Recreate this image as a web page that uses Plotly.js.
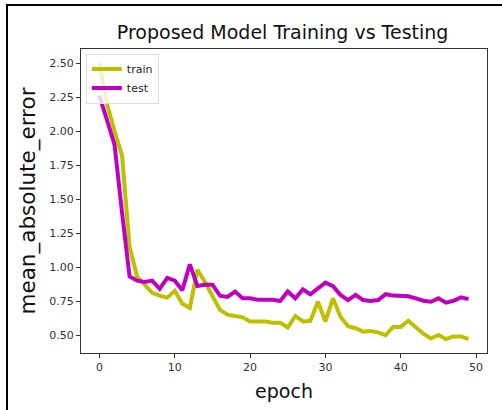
<!DOCTYPE html>
<html>
<head>
<meta charset="utf-8">
<script src="https://cdn.plot.ly/plotly-3.0.1.min.js"></script>
<style>
  html, body { margin: 0; padding: 0; background: #fff; }
  #wrap { position: relative; width: 502px; height: 410px; overflow: hidden; }
  #chart { position: absolute; left: 0; top: 0; width: 502px; height: 410px; }
  #frame { position: absolute; left: 6px; top: 4px; width: 520px; height: 430px;
           border-left: 2px solid #000; border-top: 2px solid #000; pointer-events: none; }
</style>
</head>
<body>
<div id="wrap">
  <div id="chart"></div>
  <div id="frame"></div>
</div>
<script>
const epochs = Array.from({length: 50}, (_, i) => i);

const trainMAE = [
  2.50, 2.20, 2.00, 1.82, 1.15, 0.93, 0.87, 0.81, 0.79, 0.775,
  0.825, 0.73, 0.70, 0.98, 0.89, 0.79, 0.685, 0.65, 0.64, 0.63,
  0.60, 0.60, 0.60, 0.59, 0.59, 0.555, 0.64, 0.60, 0.605, 0.745,
  0.60, 0.77, 0.635, 0.565, 0.55, 0.525, 0.53, 0.52, 0.50, 0.56,
  0.56, 0.605, 0.56, 0.51, 0.475, 0.50, 0.47, 0.49, 0.49, 0.47
];

const testMAE = [
  2.26, 2.07, 1.90, 1.40, 0.93, 0.90, 0.89, 0.90, 0.84, 0.92,
  0.90, 0.83, 1.02, 0.86, 0.87, 0.87, 0.79, 0.78, 0.82, 0.77,
  0.77, 0.76, 0.76, 0.76, 0.75, 0.82, 0.77, 0.835, 0.80, 0.845,
  0.885, 0.86, 0.795, 0.757, 0.795, 0.757, 0.75, 0.757, 0.80, 0.79,
  0.79, 0.785, 0.77, 0.752, 0.745, 0.77, 0.738, 0.752, 0.777, 0.764
];

const seriesNames = ['train', 'test'];
const xTicks = [0, 10, 20, 30, 40, 50];
const yTicks = [0.50, 0.75, 1.00, 1.25, 1.50, 1.75, 2.00, 2.25, 2.50];

const traces = [
  { x: epochs, y: trainMAE, name: seriesNames[0], type: 'scatter', mode: 'lines',
    line: { color: '#bfbf00', width: 4 } },
  { x: epochs, y: testMAE, name: seriesNames[1], type: 'scatter', mode: 'lines',
    line: { color: '#bf00bf', width: 4 } }
];

const axisCommon = {
  showgrid: false, zeroline: false,
  showline: true, mirror: true, linecolor: '#333', linewidth: 1,
  ticks: 'outside', ticklen: 4, tickwidth: 1, tickcolor: '#333',
  tickfont: { family: 'DejaVu Sans', size: 11, color: '#333' }
};

const layout = {
  width: 502, height: 410,
  margin: { l: 81, r: 15, t: 49, b: 57 },
  paper_bgcolor: '#fff', plot_bgcolor: '#fff',
  title: { text: 'Proposed Model Training vs Testing', x: 0.563, xanchor: 'center',
           y: 0.922, yanchor: 'middle',
           font: { family: 'DejaVu Sans', size: 19, color: '#111' } },
  xaxis: Object.assign({}, axisCommon, {
    range: [-2.45, 51.45], tickvals: xTicks, ticktext: xTicks.map(String),
    title: { text: 'epoch', standoff: 11, font: { family: 'DejaVu Sans', size: 19, color: '#111' } }
  }),
  yaxis: Object.assign({}, axisCommon, {
    range: [0.368, 2.603], tickvals: yTicks, ticktext: yTicks.map(v => v.toFixed(2)),
    title: { text: 'mean_absolute_error', standoff: 7, font: { family: 'DejaVu Sans', size: 21.5, color: '#111' } }
  }),
  showlegend: true,
  legend: { x: 0.012, y: 0.985, xanchor: 'left', yanchor: 'top',
            bgcolor: 'rgba(255,255,255,0.8)', bordercolor: '#ddd', borderwidth: 1,
            font: { family: 'DejaVu Sans', size: 11, color: '#222' },
            tracegroupgap: 0 }
};

Plotly.newPlot('chart', traces, layout, { displayModeBar: false, staticPlot: true });
</script>
</body>
</html>
